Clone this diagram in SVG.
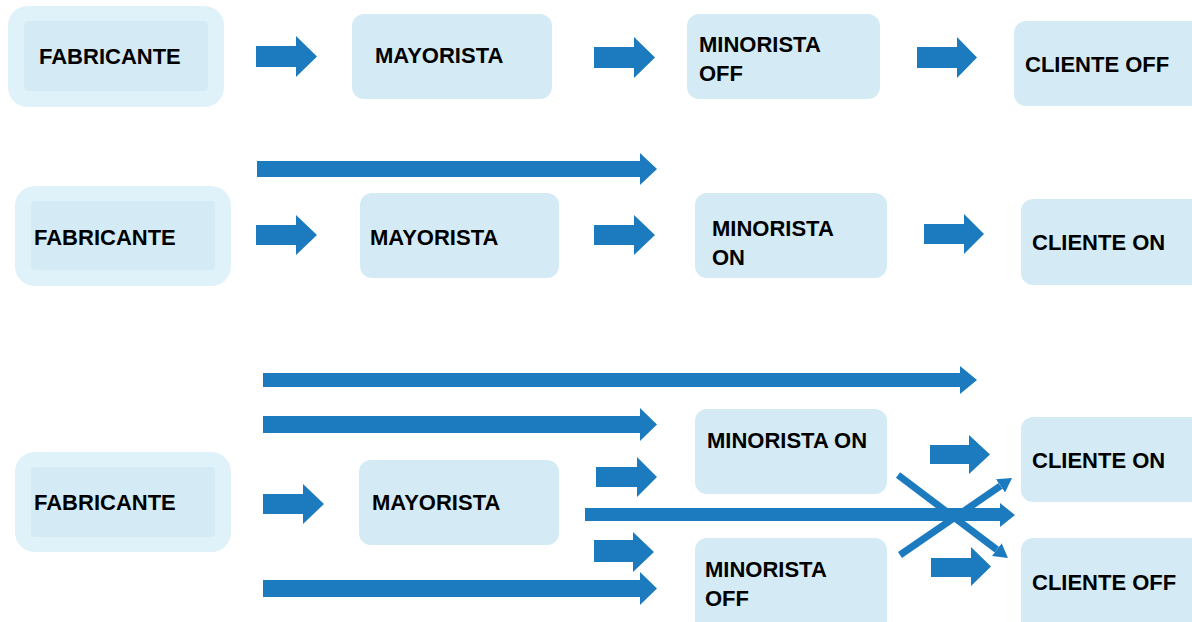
<svg xmlns="http://www.w3.org/2000/svg" width="1192" height="622" viewBox="0 0 1192 622">
  <style>
    .halo { fill: #dff1f9; }
    .box { fill: #d4ebf5; }
    .lbl { font-family: "Liberation Sans", Arial, sans-serif; font-weight: bold; font-size: 22px; fill: #000; }
    .arr { fill: #1c7bbf; }
    .ln { stroke: #1c7bbf; stroke-width: 7; fill: none; }
  </style>
  <defs>
    <marker id="head" viewBox="0 -8 14 16" refX="0" refY="0" markerWidth="14" markerHeight="16" markerUnits="userSpaceOnUse" orient="auto">
      <path d="M0,-8 L14,0 L0,8 Z" fill="#1c7bbf"/>
    </marker>
  </defs>
  <rect width="1192" height="622" fill="#ffffff"/>

  <!-- Row 1: offline chain -->
  <g id="r1-fabricante">
    <rect class="halo" x="8" y="6" width="216" height="101" rx="20"/>
    <rect class="box" x="24" y="21" width="184" height="70" rx="4"/>
    <text class="lbl" x="39" y="64">FABRICANTE</text>
  </g>
  <g id="r1-mayorista">
    <rect class="box" x="352" y="14" width="200" height="85" rx="12"/>
    <text class="lbl" x="375" y="63">MAYORISTA</text>
  </g>
  <g id="r1-minorista-off">
    <rect class="box" x="687" y="14" width="193" height="85" rx="12"/>
    <text class="lbl" x="699" y="52">MINORISTA</text>
    <text class="lbl" x="699" y="81">OFF</text>
  </g>
  <g id="r1-cliente-off">
    <rect class="box" x="1014" y="21" width="190" height="85" rx="12"/>
    <text class="lbl" x="1025" y="72">CLIENTE OFF</text>
  </g>

  <!-- Row 2: online chain -->
  <g id="r2-fabricante">
    <rect class="halo" x="15" y="186" width="216" height="100" rx="20"/>
    <rect class="box" x="31" y="201" width="184" height="69" rx="4"/>
    <text class="lbl" x="34" y="245">FABRICANTE</text>
  </g>
  <g id="r2-mayorista">
    <rect class="box" x="360" y="193" width="199" height="85" rx="12"/>
    <text class="lbl" x="370" y="245">MAYORISTA</text>
  </g>
  <g id="r2-minorista-on">
    <rect class="box" x="695" y="193" width="192" height="85" rx="12"/>
    <text class="lbl" x="712" y="236">MINORISTA</text>
    <text class="lbl" x="712" y="265">ON</text>
  </g>
  <g id="r2-cliente-on">
    <rect class="box" x="1021" y="199" width="190" height="86" rx="12"/>
    <text class="lbl" x="1032" y="250">CLIENTE ON</text>
  </g>

  <!-- Row 3: omnichannel -->
  <g id="r3-fabricante">
    <rect class="halo" x="15" y="452" width="216" height="100" rx="20"/>
    <rect class="box" x="31" y="467" width="184" height="70" rx="4"/>
    <text class="lbl" x="34" y="510">FABRICANTE</text>
  </g>
  <g id="r3-mayorista">
    <rect class="box" x="359" y="460" width="200" height="85" rx="12"/>
    <text class="lbl" x="372" y="510">MAYORISTA</text>
  </g>
  <g id="r3-minorista-on">
    <rect class="box" x="695" y="409" width="192" height="85" rx="12"/>
    <text class="lbl" x="707" y="448">MINORISTA ON</text>
  </g>
  <g id="r3-minorista-off">
    <rect class="box" x="695" y="538" width="192" height="96" rx="12"/>
    <text class="lbl" x="705" y="577">MINORISTA</text>
    <text class="lbl" x="705" y="606">OFF</text>
  </g>
  <g id="r3-cliente-on">
    <rect class="box" x="1021" y="417" width="190" height="85" rx="12"/>
    <text class="lbl" x="1032" y="468">CLIENTE ON</text>
  </g>
  <g id="r3-cliente-off">
    <rect class="box" x="1021" y="538" width="190" height="96" rx="12"/>
    <text class="lbl" x="1032" y="590">CLIENTE OFF</text>
  </g>

  <!-- Block-arrow connectors -->
  <g id="connectors">
    <!-- row 1 -->
    <path class="arr" d="M256,46 H296 V36 L317,56.5 L296,77 V67 H256 Z"/>
    <path class="arr" d="M594,47 H634 V37 L655,57.5 L634,78 V68 H594 Z"/>
    <path class="arr" d="M917,47 H957 V37 L977,57.5 L957,78 V68 H917 Z"/>
    <!-- row 2 -->
    <path class="arr" d="M257,161 H640 V153 L657,169 L640,185 V177 H257 Z"/>
    <path class="arr" d="M256,225 H296 V215 L317,235 L296,255 V245 H256 Z"/>
    <path class="arr" d="M594,225 H634 V215 L655,235 L634,255 V245 H594 Z"/>
    <path class="arr" d="M924,224 H964 V214 L984,234 L964,254 V244 H924 Z"/>
    <!-- row 3 -->
    <path class="arr" d="M263,373 H960 V366 L977,380 L960,394 V387 H263 Z"/>
    <path class="arr" d="M263,416 H640 V408 L657,424.5 L640,441 V433 H263 Z"/>
    <path class="arr" d="M596,467 H637 V457 L657,477 L637,497 V487 H596 Z"/>
    <path class="arr" d="M263,494 H303 V484 L324,504 L303,524 V514 H263 Z"/>
    <path class="arr" d="M585,508 H1000 V503 L1015,515 L1000,527 V521 H585 Z"/>
    <path class="arr" d="M594,540 H633 V532 L654,552 L633,572 V562 H594 Z"/>
    <path class="arr" d="M263,580 H640 V572 L657,588.5 L640,605 V597 H263 Z"/>
    <path class="arr" d="M930,445 H969 V435 L990,454.5 L969,474 V464 H930 Z"/>
    <path class="arr" d="M931,558 H971 V547 L991,566.5 L971,586 V577 H931 Z"/>
    <!-- crossing channels -->
    <line class="ln" x1="898" y1="475" x2="996.8" y2="549.6" marker-end="url(#head)"/>
    <line class="ln" x1="900" y1="555" x2="1000.5" y2="485.9" marker-end="url(#head)"/>
  </g>
</svg>
